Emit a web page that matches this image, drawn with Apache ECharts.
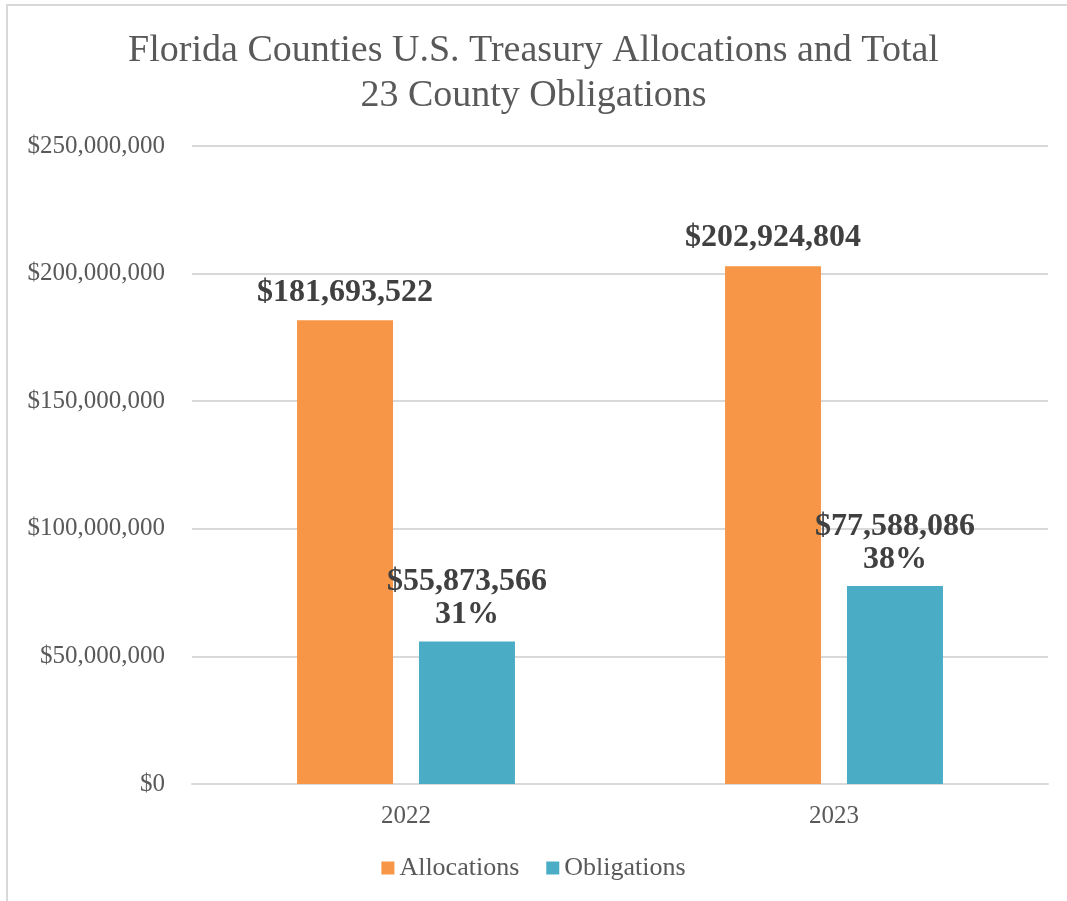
<!DOCTYPE html>
<html>
<head>
<meta charset="utf-8">
<script src="https://cdn.jsdelivr.net/npm/echarts@6/dist/echarts.min.js"></script>
<style>
  body { margin: 0; background: #fff; }
  #frame { position: absolute; left: 6px; top: 4px; width: 1070px; height: 910px; border-left: 2px solid #d9d9d9; border-top: 2px solid #d9d9d9; box-sizing: border-box; }
  #main { position: absolute; left: 0; top: 0; width: 1067px; height: 901px; }
</style>
</head>
<body>
<div id="frame"></div>
<div id="main"></div>
<script>
// data
var years = ['2022', '2023'];
var allocations = [181693522, 202924804];
var obligations = [55873566, 77588086];
var obligationPct = ['31%', '38%'];

var serif = '"Liberation Serif", "DejaVu Serif", serif';

function money(v) {
  return '$' + v.toString().replace(/\B(?=(\d{3})+(?!\d))/g, ',');
}

var myChart = echarts.init(document.getElementById('main'));

var option = {
  animation: false,
  title: {
    text: 'Florida Counties U.S. Treasury Allocations and Total\n23 County Obligations',
    left: 'center',
    top: 24,
    textStyle: {
      fontFamily: serif,
      fontWeight: 'normal',
      fontSize: 38,
      lineHeight: 45,
      color: '#595959'
    }
  },
  legend: {
    bottom: 15,
    left: 'center',
    itemWidth: 13,
    itemHeight: 13,
    itemGap: 27,
    icon: 'rect',
    textStyle: { fontFamily: serif, fontSize: 26, color: '#595959' },
    data: ['Allocations', 'Obligations']
  },
  grid: {
    left: 192,
    right: 19,
    top: 146,
    bottom: 117,
    containLabel: false
  },
  xAxis: {
    type: 'category',
    data: years,
    axisLine: { lineStyle: { color: '#d9d9d9', width: 2 } },
    axisTick: { show: false },
    axisLabel: { fontFamily: serif, fontSize: 25, color: '#595959', margin: 20 }
  },
  yAxis: {
    type: 'value',
    min: 0,
    max: 250000000,
    interval: 50000000,
    axisLine: { show: false },
    axisTick: { show: false },
    splitLine: { lineStyle: { color: '#d9d9d9', width: 2 } },
    axisLabel: {
      fontFamily: serif,
      fontSize: 25,
      color: '#595959',
      margin: 27,
      formatter: function (v) { return money(v); }
    }
  },
  series: [
    {
      name: 'Allocations',
      type: 'bar',
      data: allocations,
      barWidth: 96,
      barGap: '27%',
      itemStyle: { color: '#f79646' },
      label: {
        show: true,
        position: 'top',
        distance: 12,
        fontFamily: serif,
        fontWeight: 'bold',
        fontSize: 32,
        color: '#404040',
        formatter: function (p) { return money(p.value); }
      }
    },
    {
      name: 'Obligations',
      type: 'bar',
      data: obligations,
      barWidth: 96,
      itemStyle: { color: '#4bacc6' },
      label: {
        show: true,
        position: 'top',
        distance: 10,
        fontFamily: serif,
        fontWeight: 'bold',
        fontSize: 32,
        lineHeight: 33,
        color: '#404040',
        formatter: function (p) { return money(p.value) + '\n' + obligationPct[p.dataIndex]; }
      }
    }
  ]
};

myChart.setOption(option);
</script>
</body>
</html>
